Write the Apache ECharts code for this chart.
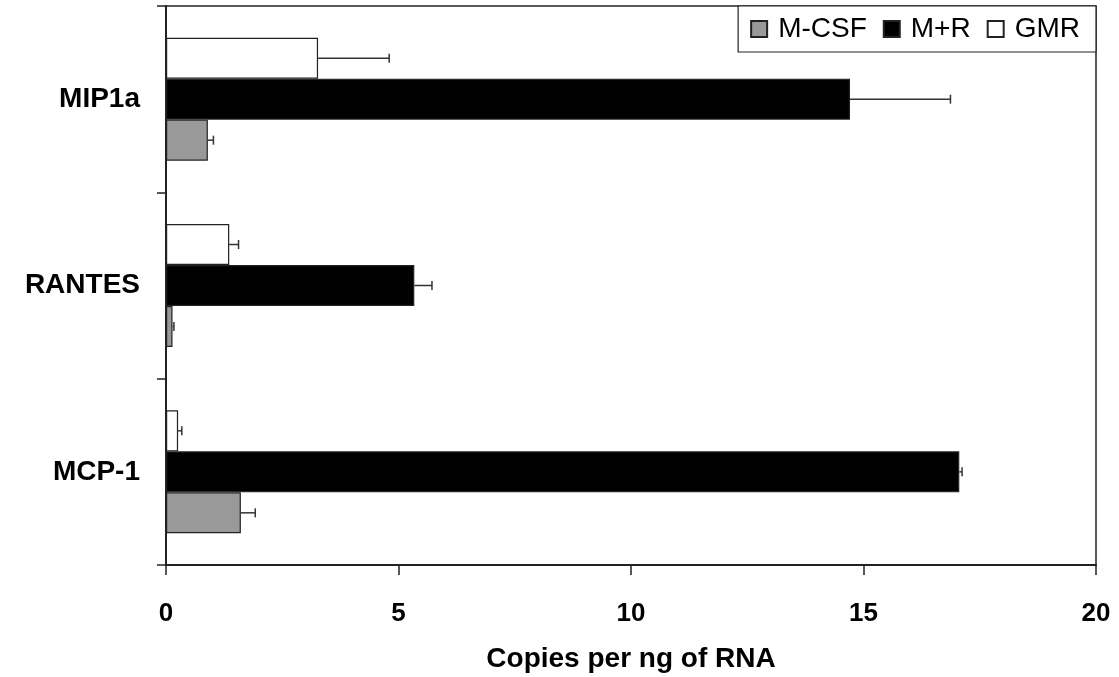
<!DOCTYPE html>
<html>
<head>
<meta charset="utf-8">
<script src="https://cdn.jsdelivr.net/npm/echarts@6/dist/echarts.min.js"></script>
<style>
html,body{margin:0;padding:0;background:#fff;}
#chart{width:1119px;height:677px;}
</style>
</head>
<body>
<div id="chart"></div>
<script>
var categories = ['MCP-1', 'RANTES', 'MIP1a'];
var legendNames = ['M-CSF', 'M+R', 'GMR'];
var mcsf = [1.61, 0.14, 0.90];
var mcsfErr = [0.31, 0.03, 0.12];
var mr = [17.06, 5.34, 14.71];
var mrErr = [0.06, 0.38, 2.16];
var gmr = [0.26, 1.36, 3.27];
var gmrErr = [0.08, 0.20, 1.53];
var xTicks = [0, 5, 10, 15, 20];

var FONT = '"Liberation Sans", Arial, sans-serif';
var GAP = 0.34;
// series drawn top-to-bottom within each category: GMR, M+R, M-CSF
var seriesNames = ['GMR', 'M+R', 'M-CSF'];
var colors = ['#ffffff', '#000000', '#999999'];
var values = [gmr, mr, mcsf];
var errs = [gmrErr, mrErr, mcsfErr];

var errData = [];
for (var s = 0; s < 3; s++) {
  for (var c = 0; c < categories.length; c++) {
    errData.push([values[s][c], c, errs[s][c], s]);
  }
}

var chart = echarts.init(document.getElementById('chart'), null, {renderer: 'canvas'});

var series = [];
for (var i = 0; i < 3; i++) {
  series.push({
    name: seriesNames[i],
    type: 'bar',
    data: values[i],
    barCategoryGap: (GAP * 100) + '%',
    barGap: '0%',
    itemStyle: {color: colors[i], borderColor: '#222', borderWidth: 1.2},
    emphasis: {disabled: true},
    z: 2
  });
}
series.push({
  type: 'custom',
  name: 'err',
  data: errData,
  encode: {x: 0, y: 1},
  z: 5,
  silent: true,
  renderItem: function (params, api) {
    var v = api.value(0), c = api.value(1), e = api.value(2), s = api.value(3);
    var band = api.size([0, 1])[1];
    var bw = band * (1 - GAP) / 3;
    var off = (s - 1) * bw;
    var p0 = api.coord([v, c]);
    var p1 = api.coord([v + e, c]);
    var y = p0[1] + off;
    var cap = 4.5;
    var st = {stroke: '#333', lineWidth: 1.5};
    return {
      type: 'group',
      children: [
        {type: 'line', shape: {x1: p0[0], y1: y, x2: p1[0], y2: y}, style: st},
        {type: 'line', shape: {x1: p1[0], y1: y - cap, x2: p1[0], y2: y + cap}, style: st}
      ]
    };
  }
});

chart.setOption({
  animation: false,
  backgroundColor: '#ffffff',
  grid: {
    left: 166, right: 23, top: 6, bottom: 112,
    outerBoundsMode: 'none',
    containLabel: false,
    show: true, borderColor: '#222', borderWidth: 1.5, backgroundColor: 'transparent'
  },
  legend: {
    data: legendNames,
    right: 23, top: 6,
    orient: 'horizontal',
    backgroundColor: '#fff',
    borderColor: '#222',
    borderWidth: 1.2,
    borderRadius: 0,
    padding: [9, 16, 9, 12],
    itemGap: 16,
    itemWidth: 16,
    itemHeight: 16,
    icon: 'rect',
    textStyle: {fontFamily: FONT, fontSize: 28, color: '#000', padding: [0, 0, 0, 6]}
  },
  xAxis: {
    type: 'value',
    min: 0, max: 20, interval: 5,
    name: 'Copies per ng of RNA',
    nameLocation: 'middle',
    nameGap: 80,
    nameTextStyle: {fontFamily: FONT, fontSize: 28, fontWeight: 'bold', color: '#000'},
    axisLine: {show: true, onZero: false, lineStyle: {color: '#222', width: 2}},
    axisTick: {show: true, length: 10, lineStyle: {color: '#222', width: 1.5}},
    axisLabel: {
      fontFamily: FONT, fontSize: 26, fontWeight: 'bold', color: '#000', margin: 36,
      formatter: function (v) { return xTicks.indexOf(v) >= 0 ? String(v) : ''; }
    },
    splitLine: {show: false}
  },
  yAxis: {
    type: 'category',
    data: categories,
    axisLine: {show: true, lineStyle: {color: '#222', width: 2}},
    axisTick: {show: true, length: 9, lineStyle: {color: '#222', width: 1.5}},
    axisLabel: {fontFamily: FONT, fontSize: 28, fontWeight: 'bold', color: '#000', margin: 26},
    splitLine: {show: false}
  },
  series: series
});
</script>
</body>
</html>
